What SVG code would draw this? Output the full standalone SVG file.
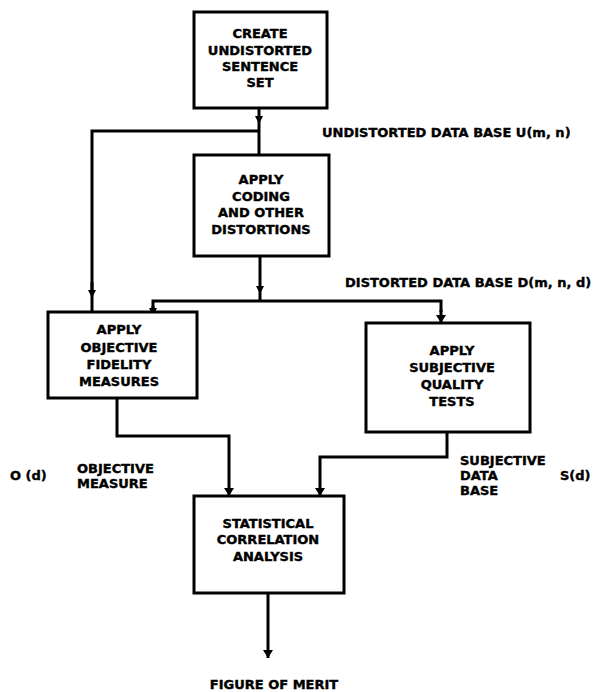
<svg xmlns="http://www.w3.org/2000/svg" width="606" height="692" viewBox="0 0 606 692">
  <style>
    .box { fill: #ffffff; stroke: #000000; stroke-width: 3; }
    .line { fill: none; stroke: #000000; stroke-width: 3; }
    .t { font-family: "DejaVu Sans", "Liberation Sans", Arial, sans-serif; font-weight: bold; font-size: 13px; fill: #000000; stroke: #000000; stroke-width: 0.4; }
    .c { text-anchor: middle; }
  </style>
  <defs>
    <marker id="arrow" viewBox="0 0 8 12" refX="8" refY="6" markerWidth="8" markerHeight="12" markerUnits="userSpaceOnUse" orient="auto">
      <path d="M0,1 L8,6 L0,11 Z" fill="#000000"/>
    </marker>
    <marker id="mid" viewBox="0 0 8 10" refX="4" refY="5" markerWidth="8" markerHeight="10" markerUnits="userSpaceOnUse" orient="auto">
      <path d="M0,1 L8,5 L0,9 Z" fill="#000000"/>
    </marker>
  </defs>

  <rect width="606" height="692" fill="#ffffff"/>

  <!-- connectors -->
  <g id="connectors">
    <!-- sentence set down to the undistorted junction and on to coding -->
    <path class="line" d="M259,108 L259,120" marker-end="url(#mid)"/>
    <path class="line" d="M259,118 L259,155"/>
    <!-- undistorted branch to objective measures -->
    <path class="line" d="M260,131 L92,131 L92,292"/>
    <path class="line" d="M92,282 L92,294" marker-end="url(#mid)"/>
    <path class="line" d="M92,292 L92,312"/>
    <!-- coding output to distorted junction -->
    <path class="line" d="M260,256 L260,290" marker-end="url(#mid)"/>
    <path class="line" d="M260,288 L260,301"/>
    <path class="line" d="M153,312 L153,301 L441,301 L441,312"/>
    <path class="line" d="M153,306 L153,312" marker-end="url(#mid)"/>
    <path class="line" d="M441,310 L441,323" marker-end="url(#arrow)"/>
    <!-- measures into correlation analysis -->
    <path class="line" d="M117,398 L117,436 L229,436 L229,496" marker-end="url(#arrow)"/>
    <path class="line" d="M447,432 L447,457 L320,457 L320,496" marker-end="url(#arrow)"/>
    <!-- figure of merit output -->
    <path class="line" d="M268,593 L268,658" marker-end="url(#arrow)"/>
  </g>

  <g id="create-set">
    <rect class="box" x="194" y="12" width="133" height="96"/>
    <text class="t c" x="260" y="38">CREATE</text>
    <text class="t c" x="260" y="55">UNDISTORTED</text>
    <text class="t c" x="260" y="71">SENTENCE</text>
    <text class="t c" x="260" y="87">SET</text>
  </g>

  <g id="apply-coding">
    <rect class="box" x="194" y="155" width="135" height="101"/>
    <text class="t c" x="261" y="184">APPLY</text>
    <text class="t c" x="261" y="201">CODING</text>
    <text class="t c" x="261" y="217">AND OTHER</text>
    <text class="t c" x="261" y="234">DISTORTIONS</text>
  </g>

  <g id="objective-measures">
    <rect class="box" x="48" y="312" width="149" height="86"/>
    <text class="t c" x="119" y="334">APPLY</text>
    <text class="t c" x="119" y="352">OBJECTIVE</text>
    <text class="t c" x="119" y="369">FIDELITY</text>
    <text class="t c" x="119" y="386">MEASURES</text>
  </g>

  <g id="subjective-tests">
    <rect class="box" x="366" y="323" width="164" height="109"/>
    <text class="t c" x="452" y="355">APPLY</text>
    <text class="t c" x="452" y="372">SUBJECTIVE</text>
    <text class="t c" x="452" y="389">QUALITY</text>
    <text class="t c" x="452" y="406">TESTS</text>
  </g>

  <g id="correlation-analysis">
    <rect class="box" x="194" y="496" width="150" height="97"/>
    <text class="t c" x="268" y="528">STATISTICAL</text>
    <text class="t c" x="268" y="544">CORRELATION</text>
    <text class="t c" x="268" y="561">ANALYSIS</text>
  </g>

  <!-- data labels -->
  <g id="labels">
    <text class="t" x="322" y="137">UNDISTORTED DATA BASE U(m, n)</text>
    <text class="t" x="345" y="287">DISTORTED DATA BASE D(m, n, d)</text>
    <text class="t" x="10" y="480">O (d)</text>
    <text class="t" x="77" y="473">OBJECTIVE</text>
    <text class="t" x="77" y="488">MEASURE</text>
    <text class="t" x="460" y="465">SUBJECTIVE</text>
    <text class="t" x="460" y="480">DATA</text>
    <text class="t" x="460" y="495">BASE</text>
    <text class="t" x="560" y="480">S(d)</text>
    <text class="t c" x="274" y="689">FIGURE OF MERIT</text>
  </g>
</svg>
